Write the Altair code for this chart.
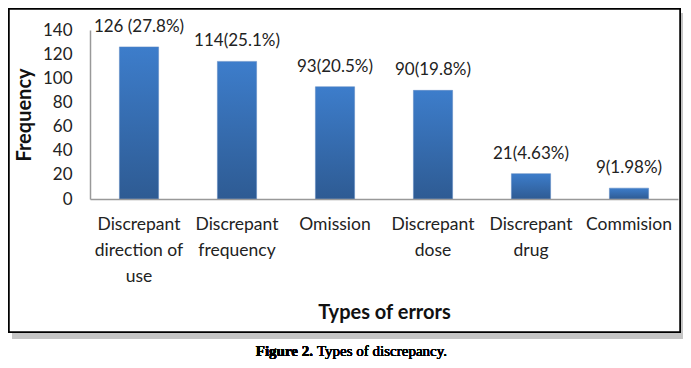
import altair as alt
import pandas as pd

categories = ["Discrepant direction of use", "Discrepant frequency", "Omission",
              "Discrepant dose", "Discrepant drug", "Commision"]
label_lines = ["Discrepant|direction of|use", "Discrepant|frequency", "Omission",
               "Discrepant|dose", "Discrepant|drug", "Commision"]
frequency = [126, 114, 93, 90, 21, 9]
bar_labels = ["126 (27.8%)", "114(25.1%)", "93(20.5%)", "90(19.8%)", "21(4.63%)", "9(1.98%)"]
y_ticks = [0, 20, 40, 60, 80, 100, 120, 140]

df = pd.DataFrame({"cat": label_lines, "freq": frequency, "lab": bar_labels})

FONT = "Lato"
W, H = 588, 169

x_enc = alt.X("cat:N", sort=label_lines,
              scale=alt.Scale(paddingInner=0.6, paddingOuter=0.3),
              axis=alt.Axis(title="Types of errors", labelAngle=0, zindex=1,
                            labelExpr="split(datum.label, '|')",
                            labelLineHeight=26, labelPadding=16,
                            labelFontSize=17.5, labelFont=FONT, labelColor="#222",
                            ticks=False, domainColor="#999", domainWidth=1.5,
                            labelOverlap=False,
                            titleFont=FONT, titleFontSize=20, titleFontWeight="bold",
                            titlePadding=18, titleColor="#111", labelLimit=200))
y_enc = alt.Y("freq:Q", scale=alt.Scale(domain=[0, 140], nice=False),
              axis=alt.Axis(title="Frequency", values=y_ticks, grid=False, ticks=False,
                            zindex=1, domainColor="#999", domainWidth=1.5,
                            labelOverlap=False, tickCount=8,
                            labelFontSize=17, labelFont=FONT, labelColor="#222",
                            labelPadding=18, titleFont=FONT, titleFontSize=20,
                            titleFontWeight="bold", titlePadding=8, titleColor="#111"))

grad = alt.Gradient(gradient="linear",
                    stops=[alt.GradientStop(color="#3D7DCB", offset=0),
                           alt.GradientStop(color="#2E5B93", offset=1)],
                    x1=0, x2=0, y1=0, y2=1)

bars = alt.Chart(df).mark_bar(color=grad, stroke="#5b87c0", strokeWidth=0.5).encode(x=x_enc, y=y_enc)
texts = alt.Chart(df).mark_text(baseline="bottom", dy=-11, fontSize=17, font=FONT, color="#222").encode(
    x=x_enc, y=y_enc, text="lab:N")

# frame around the figure panel, with soft shadow
shadow = alt.Chart(df).mark_rect(fill="#c4c4c4", opacity=0.6, clip=False).encode(
    x=alt.value(-78), x2=alt.value(594), y=alt.value(-17), y2=alt.value(309))
frame = alt.Chart(df).mark_rect(fill="white", stroke="black", strokeWidth=1.5, clip=False).encode(
    x=alt.value(-81), x2=alt.value(590), y=alt.value(-21), y2=alt.value(302))

cap1 = alt.Chart(df).mark_text(align="right", baseline="middle", font="Liberation Serif",
                               fontSize=15, fontWeight="bold", color="#000").encode(
    x=alt.value(223), y=alt.value(321), text=alt.value("Figure 2."))
cap2 = alt.Chart(df).mark_text(align="left", baseline="middle", font="Liberation Serif",
                               fontSize=15, fontWeight="normal", color="#000").encode(
    x=alt.value(227), y=alt.value(321), text=alt.value("Types of discrepancy."))

chart = alt.layer(shadow, frame, bars, texts, cap1, cap2).properties(
    width=W, height=H,
    autosize=alt.AutoSizeParams(type="none"),
    padding={"left": 82, "top": 22, "right": 5, "bottom": 161},
).configure_view(stroke=None).configure(background="white")

chart.save("out.html", embed_options={"renderer": "svg", "actions": False})
